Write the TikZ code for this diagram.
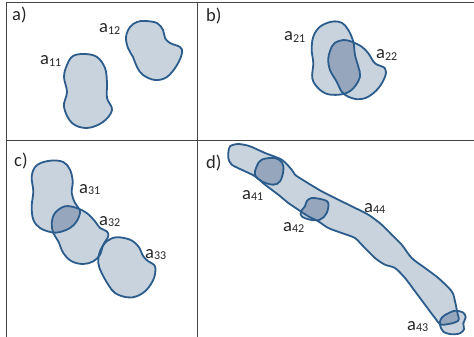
\documentclass[tikz,border=0pt]{standalone}
\usepackage{fontspec}
\newfontfamily\labfont{Carlito}
\definecolor{edgeblue}{RGB}{44,92,140}
\definecolor{lightf}{RGB}{200,211,222}
\definecolor{darkf}{RGB}{150,167,189}
\definecolor{framec}{RGB}{70,70,70}
\newcommand\lsub[1]{\raisebox{-1.3pt}{\fontsize{12}{12}\selectfont #1}}
\tikzset{
  blobfill/.style={fill=lightf},
  overfill/.style={fill=darkf},
  blobline/.style={draw=edgeblue,line width=1.8pt,line join=round},
  frameline/.style={draw=framec,line width=0.9pt},
  lab/.style={inner sep=0pt,anchor=base west,font=\labfont\fontsize{18.5}{20}\selectfont,text=black!85}
}
% panel a
\def\pAa{plot[smooth cycle,tension=0.6] coordinates{(85,54) (97,57) (105,68) (107,83) (107,98) (112,110) (103,122) (87,128) (72,123) (64,107) (67,92) (64,77) (67,65) (73,56)}}
\def\pAb{plot[smooth cycle,tension=0.6] coordinates{(145,21) (157,23) (163,30) (165,38) (170,43) (180,47) (182,53) (177,65) (167,77) (155,80) (143,75) (137,67) (133,57) (128,48) (126,37) (130,27) (137,22)}}
% panel b
\def\pBa{plot[smooth cycle,tension=0.6] coordinates{(331.7,21.7) (341.7,22.7) (348.3,30) (353.3,41.7) (355,55) (358.3,66.7) (360,76.7) (353.3,88.3) (343.3,94) (328.3,94.3) (318.3,88.3) (312.3,78.3) (313.3,63.3) (311.7,50) (313.3,36.7) (320,26.7)}}
\def\pBb{plot[smooth cycle,tension=0.6] coordinates{(343.3,40) (351.7,41.7) (361.7,46.7) (368.3,53.3) (375,63.3) (385,68.3) (385,76.7) (378.3,88.3) (368.3,96.7) (358.3,99.3) (348.3,96.7) (341.7,91.7) (336.7,81.7) (330,70) (328.3,58.3) (331.7,46.7) (335,42.7)}}
% panel c
\def\pCa{plot[smooth cycle,tension=0.6] coordinates{(50,160.7) (63.3,162) (70,169.7) (72.7,181.3) (71.7,193) (75,203) (80,211.3) (76.7,221.3) (70,228) (60,232) (51.7,232.3) (40,228) (33.3,219.7) (31.7,206.3) (33.3,191.3) (31.7,176.3) (36.7,165.3)}}
\def\pCb{plot[smooth cycle,tension=0.6] coordinates{(65,206.3) (76.7,208) (86.7,213) (95,221.3) (100,228) (106.7,231.3) (108.3,236.3) (103.3,244.7) (100,254.7) (93.3,261.3) (83.3,264) (71.7,261.3) (63.3,253) (58.3,241.3) (53.3,233) (51.7,223) (55,213)}}
\def\pCc{plot[smooth cycle,tension=0.6] coordinates{(116.7,237.3) (130,239.7) (138.3,246.3) (143.3,256.3) (148.3,261.3) (155,266.3) (154,278) (146.7,289.7) (136.7,296.3) (126.7,297.3) (115,293) (108.3,284.7) (101.7,273) (98.3,263) (100,251.3) (106.7,241.3)}}
% panel d
\def\pDs{plot[smooth cycle,tension=0.5] coordinates{(228.3,153) (230,146.3) (238.3,144) (250,146.3) (265,153) (281.7,159.7) (291.7,169.7) (295,174.7) (305,181.3) (321.7,191.3) (338.3,199.7) (351.7,206.3) (368.3,214.7) (381.7,224.7) (391.7,234.7) (401.7,244.7) (411.7,258) (425,268) (438.3,278) (451.7,291.3) (455,301.3) (457,311.3) (458,321) (441.7,324.7) (435,318) (425,304.7) (415,291.3) (405,278) (395,268) (385,264.7) (375,258) (361.7,244.7) (355,238) (341.7,233) (328.3,228) (318.3,221.3) (308.3,216.3) (298.3,209.7) (288.3,203) (278.3,194.7) (265,184.7) (255,176.3) (245,171.3) (231.7,164.7) (228.3,158)}}
\def\pDa{plot[smooth cycle,tension=0.6] coordinates{(261.7,159.7) (275,158) (282.3,163) (283.3,171.3) (280,181.3) (273.3,184.7) (261.7,181.3) (255,174.7) (256.7,166.3)}}
\def\pDb{plot[smooth cycle,tension=0.6] coordinates{(311.7,198) (323.3,199.7) (328.3,203) (326.7,213) (320,219.7) (310,219.7) (301.7,216.3) (301,211.3) (305,206.3) (306.7,201.3)}}
\def\pDc{plot[smooth cycle,tension=0.5] coordinates{(445,315) (455,310.7) (463.3,312.7) (465.7,317.3) (463.3,323.3) (464,329.3) (460,333.3) (451.7,334.3) (443.3,331.7) (440,325) (440.7,319.3)}}
\begin{document}
\begin{tikzpicture}[x=1pt,y=-1pt]
\useasboundingbox (0,0) rectangle (474,337);
% frame
\coordinate (tl) at (6,2);
\coordinate (tr) at (474,2);
\coordinate (bl) at (6,337);
\coordinate (mt) at (197,2);
\coordinate (mb) at (197,337);
\coordinate (ml) at (6,140);
\coordinate (mr) at (474,140);
\draw[frameline] (bl) -- (tl) -- (tr);
\draw[frameline] (mt) -- (mb);
\draw[frameline] (ml) -- (mr);
% panel a
\fill[blobfill] \pAa;
\fill[blobfill] \pAb;
\draw[blobline] \pAa;
\draw[blobline] \pAb;
% panel b
\fill[blobfill] \pBa;
\fill[blobfill] \pBb;
\begin{scope}\clip \pBa; \fill[overfill] \pBb; \end{scope}
\draw[blobline] \pBa;
\draw[blobline] \pBb;
% panel c
\fill[blobfill] \pCa;
\fill[blobfill] \pCb;
\fill[blobfill] \pCc;
\begin{scope}\clip \pCa; \fill[overfill] \pCb; \end{scope}
\draw[blobline] \pCa;
\draw[blobline] \pCb;
\draw[blobline] \pCc;
% panel d
\fill[blobfill] \pDs;
\fill[blobfill] \pDa;
\fill[blobfill] \pDb;
\fill[blobfill] \pDc;
\begin{scope}\clip \pDs; \fill[overfill] \pDa; \fill[overfill] \pDb; \fill[overfill] \pDc; \end{scope}
\draw[blobline] \pDs;
\draw[blobline] \pDa;
\draw[blobline] \pDb;
\draw[blobline] \pDc;
% labels
\node[lab] (la) at (12,20.5) {a)};
\node[lab] (lb) at (206,21.5) {b)};
\node[lab] (lc) at (14,166) {c)};
\node[lab] (ld) at (206,168) {d)};
\node[lab] (l11) at (40,65) {a\lsub{11}};
\node[lab] (l12) at (99,33) {a\lsub{12}};
\node[lab] (l21) at (284,41) {a\lsub{21}};
\node[lab] (l22) at (376,59) {a\lsub{22}};
\node[lab] (l31) at (79,193) {a\lsub{31}};
\node[lab] (l32) at (99,225) {a\lsub{32}};
\node[lab] (l33) at (145,258) {a\lsub{33}};
\node[lab] (l41) at (242,199) {a\lsub{41}};
\node[lab] (l42) at (283,231) {a\lsub{42}};
\node[lab] (l44) at (364,212) {a\lsub{44}};
\node[lab] (l43) at (407,330.5) {a\lsub{43}};
\end{tikzpicture}
\end{document}
